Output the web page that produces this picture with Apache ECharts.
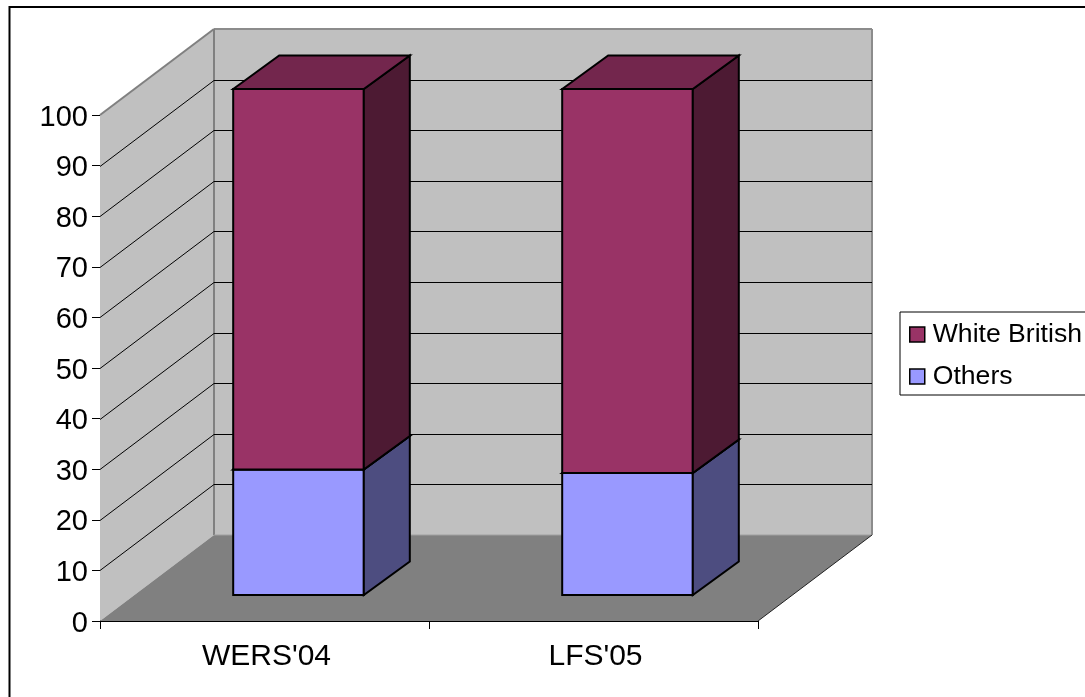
<!DOCTYPE html>
<html>
<head>
<meta charset="utf-8">
<style>html,body{margin:0;padding:0;background:#fff}#chart{width:1085px;height:697px}</style>
<script src="https://cdn.jsdelivr.net/npm/echarts@6/dist/echarts.min.js"></script>
</head>
<body>
<div id="chart"></div>
<script>
// Share of employees by ethnic group in two surveys (stacked to 100)
const categories = ["WERS'04", "LFS'05"];
const othersValues = [24.8, 24.1];
const whiteBritishValues = [75.2, 75.9];
const gridValues = [10, 20, 30, 40, 50, 60, 70, 80, 90];

const FONT = '"Liberation Sans", Arial, sans-serif';
const WALL_DX = 114, WALL_DY = -86;      // depth of the plot box
const BAR_DX = 34, BAR_DY = -26;         // offset of a bar's front face from the front plane
const BAR_SIDE_DX = 46, BAR_SIDE_DY = -33.5; // depth of a bar
const BAR_RATIO = 0.397;

function poly(points, fill, stroke, lineWidth) {
  return { type: 'polygon', shape: { points },
    style: { fill, stroke: stroke || 'none', lineWidth: lineWidth || 0, lineJoin: 'miter' } };
}

// Three-faced prism for one stacked segment
function renderPrism(front, side, top) {
  return function (params, api) {
    const cat = api.value(0);
    const lo = api.coord([cat, api.value(1)]);
    const hi = api.coord([cat, api.value(2)]);
    const w = api.size([1, 0])[0] * BAR_RATIO;
    const x0 = lo[0] + BAR_DX - w / 2, x1 = x0 + w;
    const y0 = lo[1] + BAR_DY, y1 = hi[1] + BAR_DY;
    const dx = BAR_SIDE_DX, dy = BAR_SIDE_DY;
    return { type: 'group', children: [
      poly([[x0, y1], [x1, y1], [x1, y0], [x0, y0]], front, '#000', 2),
      poly([[x1, y1], [x1 + dx, y1 + dy], [x1 + dx, y0 + dy], [x1, y0]], side, '#000', 2),
      poly([[x0, y1], [x0 + dx, y1 + dy], [x1 + dx, y1 + dy], [x1, y1]], top, '#000', 2)
    ] };
  };
}

// Back wall, side wall and floor of the plot box
function renderBox(params) {
  const c = params.coordSys;
  const l = c.x, r = c.x + c.width, t = c.y, b = c.y + c.height;
  const dx = WALL_DX, dy = WALL_DY;
  const edge = (x1, y1, x2, y2, color, width) => ({ type: 'line',
    shape: { x1, y1, x2, y2 }, style: { stroke: color, lineWidth: width } });
  return { type: 'group', children: [
    poly([[l + dx, t + dy], [r + dx, t + dy], [r + dx, b + dy], [l + dx, b + dy]], '#c0c0c0'),
    poly([[l, t], [l + dx, t + dy], [l + dx, b + dy], [l, b]], '#c0c0c0'),
    poly([[l, b], [l + dx, b + dy], [r + dx, b + dy], [r, b]], '#808080'),
    edge(l, t, l + dx, t + dy, '#808080', 2),
    edge(l + dx, t + dy, r + dx, t + dy, '#8c8c8c', 2),
    edge(l + dx, t + dy, l + dx, b + dy, '#808080', 2),
    edge(r + dx, t + dy, r + dx, b + dy, '#8c8c8c', 2),
    edge(l + dx, b + dy, r + dx, b + dy, '#a0a0a0', 1),
    edge(r, b, r + dx, b + dy, '#222', 1)
  ] };
}

// Gridline running along the side wall and across the back wall
function renderGrid(params, api) {
  const c = params.coordSys;
  const y = Math.round(api.coord([0, api.value(0)])[1]) + 0.5;
  const l = c.x, r = c.x + c.width;
  return { type: 'polyline',
    shape: { points: [[l, y], [l + WALL_DX, y + WALL_DY], [r + WALL_DX, y + WALL_DY]] },
    style: { fill: 'none', stroke: '#000', lineWidth: 1 } };
}

const chart = echarts.init(document.getElementById('chart'), null, { renderer: 'canvas' });
chart.setOption({
  animation: false,
  backgroundColor: '#fff',
  textStyle: { fontFamily: FONT },
  grid: { left: 100, right: 327, top: 115, bottom: 76, containLabel: false },
  graphic: [{ type: 'rect', silent: true, z: 0,
    shape: { x: 9.5, y: 7, width: 1200, height: 800 },
    style: { fill: 'none', stroke: '#000', lineWidth: 2 } }],
  legend: {
    orient: 'vertical', left: 900, top: 312,
    data: ['White British', 'Others'],
    icon: 'rect', itemWidth: 15, itemHeight: 15, itemGap: 15,
    padding: [9, 10, 5, 9],
    borderColor: '#000', borderWidth: 1, backgroundColor: '#fff',
    itemStyle: { borderColor: '#000', borderWidth: 1.5 },
    textStyle: { fontFamily: FONT, fontSize: 26.6, color: '#000', lineHeight: 26, padding: [0, 0, 0, 3] },
    selectedMode: false
  },
  xAxis: {
    type: 'category', data: categories, boundaryGap: true,
    axisLine: { lineStyle: { color: '#000', width: 1 } },
    axisTick: { show: true, length: 8, lineStyle: { color: '#000', width: 1 } },
    axisLabel: { color: '#000', fontFamily: FONT, fontSize: 30, margin: 21, padding: [0, 0, 0, 4] },
    splitLine: { show: false }
  },
  yAxis: {
    type: 'value', min: 0, max: 100, interval: 10,
    axisLine: { show: true, lineStyle: { color: '#000', width: 1 } },
    axisTick: { show: true, length: 8, lineStyle: { color: '#000', width: 1 } },
    axisLabel: { color: '#000', fontFamily: FONT, fontSize: 29, margin: 12, verticalAlign: 'top', lineHeight: 5 },
    splitLine: { show: false }
  },
  series: [
    { type: 'custom', name: 'box', silent: true, z: 1, data: [[0, 0]],
      encode: { x: 0, y: 1 }, renderItem: renderBox },
    { type: 'custom', name: 'gridlines', silent: true, z: 2,
      data: gridValues.map(v => [v]), encode: { y: 0 }, renderItem: renderGrid },
    { type: 'custom', name: 'Others', z: 3,
      itemStyle: { color: '#9999ff' },
      data: categories.map((_, i) => [i, 0, othersValues[i]]),
      encode: { x: 0, y: [1, 2] },
      renderItem: renderPrism('#9999ff', '#4d4d80', '#73739f') },
    { type: 'custom', name: 'White British', z: 4,
      itemStyle: { color: '#993366' },
      data: categories.map((_, i) => [i, othersValues[i], othersValues[i] + whiteBritishValues[i]]),
      encode: { x: 0, y: [1, 2] },
      renderItem: renderPrism('#993366', '#4d1a33', '#73264d') }
  ]
});
</script>
</body>
</html>
